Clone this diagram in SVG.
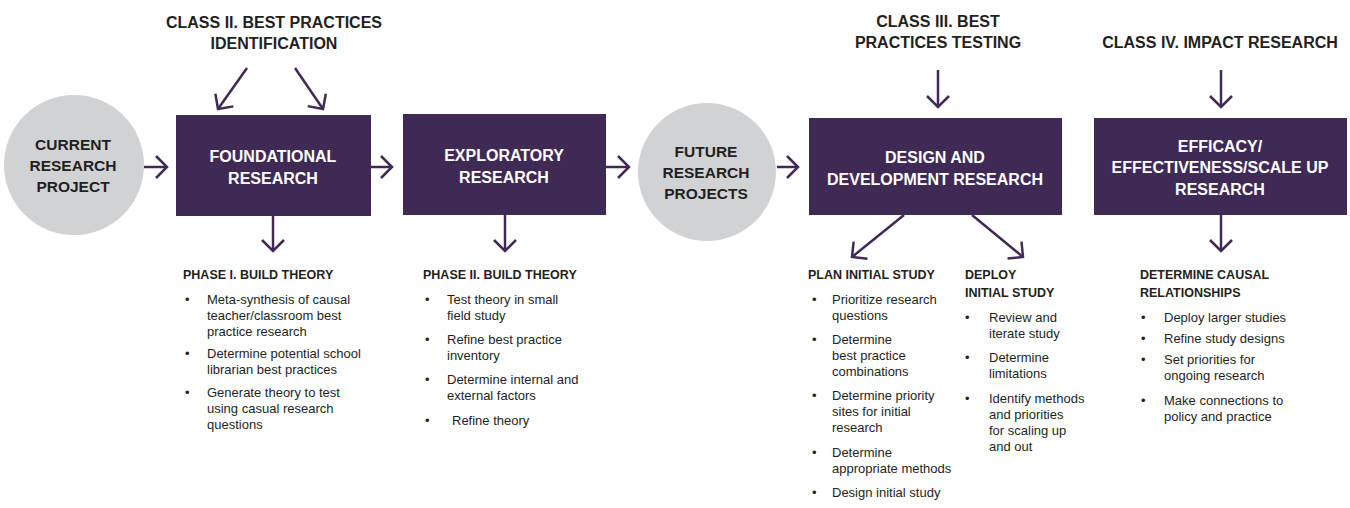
<svg xmlns="http://www.w3.org/2000/svg" width="1350" height="508" viewBox="0 0 1350 508">
<style>
.box{fill:#3f2a56}
.circ{fill:#d1d2d4}
.t{font-family:"Liberation Sans",Arial,sans-serif;font-weight:700;text-anchor:middle}
.cls{font-size:16px;fill:#231f20}
.bx{font-size:16px;fill:#ffffff}
.cr{font-size:15.5px;fill:#231f20}
.h{font-family:"Liberation Sans",Arial,sans-serif;font-weight:700;font-size:12.5px;fill:#231f20}
.b{font-family:"Liberation Sans",Arial,sans-serif;font-size:13px;fill:#231f20}
.ln{stroke:#3f2a56;stroke-width:2.5;fill:none;marker-end:url(#chev)}
</style>
<defs>
<marker id="chev" markerUnits="userSpaceOnUse" viewBox="-14 -14 16 28" refX="0" refY="0" markerWidth="16" markerHeight="28" orient="auto">
<path d="M-11,-11 L0,0 L-11,11" fill="none" stroke="#3f2a56" stroke-width="2.5"/>
</marker>
</defs>
<rect width="1350" height="508" fill="#ffffff"/>

<g id="class2">
<text class="t cls" x="274" y="28">CLASS II. BEST PRACTICES</text>
<text class="t cls" x="274" y="49">IDENTIFICATION</text>
</g>
<g id="class3">
<text class="t cls" x="938" y="27">CLASS III. BEST</text>
<text class="t cls" x="938" y="48">PRACTICES TESTING</text>
</g>
<g id="class4">
<text class="t cls" x="1220" y="48">CLASS IV. IMPACT RESEARCH</text>
</g>

<g id="current">
<circle class="circ" cx="74" cy="165" r="70"/>
<text class="t cr" x="73" y="150">CURRENT</text>
<text class="t cr" x="73" y="171">RESEARCH</text>
<text class="t cr" x="73" y="192">PROJECT</text>
</g>
<g id="foundational">
<rect class="box" x="176" y="115" width="195" height="101"/>
<text class="t bx" x="273" y="162">FOUNDATIONAL</text>
<text class="t bx" x="273" y="184">RESEARCH</text>
</g>
<g id="exploratory">
<rect class="box" x="403" y="114" width="203" height="101"/>
<text class="t bx" x="504" y="161">EXPLORATORY</text>
<text class="t bx" x="504" y="183">RESEARCH</text>
</g>
<g id="future">
<circle class="circ" cx="707" cy="172" r="69"/>
<text class="t cr" x="706" y="157">FUTURE</text>
<text class="t cr" x="706" y="178">RESEARCH</text>
<text class="t cr" x="706" y="199">PROJECTS</text>
</g>
<g id="design">
<rect class="box" x="809" y="118" width="253" height="97"/>
<text class="t bx" x="935" y="163">DESIGN AND</text>
<text class="t bx" x="935" y="185">DEVELOPMENT RESEARCH</text>
</g>
<g id="efficacy">
<rect class="box" x="1094" y="118" width="253" height="97"/>
<text class="t bx" x="1220" y="152">EFFICACY/</text>
<text class="t bx" x="1220" y="173">EFFECTIVENESS/SCALE UP</text>
<text class="t bx" x="1220" y="195">RESEARCH</text>
</g>

<g id="connectors">
<line class="ln" x1="247" y1="68" x2="218" y2="109"/>
<line class="ln" x1="295" y1="68" x2="323" y2="109"/>
<line class="ln" x1="144" y1="167" x2="167" y2="167"/>
<line class="ln" x1="371" y1="167" x2="392" y2="167"/>
<line class="ln" x1="606" y1="167" x2="629" y2="167"/>
<line class="ln" x1="777" y1="167" x2="798" y2="167"/>
<line class="ln" x1="938" y1="70" x2="938" y2="107"/>
<line class="ln" x1="1221" y1="70" x2="1221" y2="107"/>
<line class="ln" x1="273" y1="216" x2="273" y2="251"/>
<line class="ln" x1="505" y1="215" x2="505" y2="251"/>
<line class="ln" x1="904" y1="215" x2="852" y2="257"/>
<line class="ln" x1="972" y1="215" x2="1023" y2="257"/>
<line class="ln" x1="1221" y1="215" x2="1221" y2="251"/>
</g>

<g id="phase1">
<text class="h" x="183" y="279">PHASE I. BUILD THEORY</text>
<text class="b" x="185" y="304">•</text><text class="b" x="207" y="304">Meta-synthesis of causal</text>
<text class="b" x="207" y="320">teacher/classroom best</text>
<text class="b" x="207" y="336">practice research</text>
<text class="b" x="185" y="358">•</text><text class="b" x="207" y="358">Determine potential school</text>
<text class="b" x="207" y="374">librarian best practices</text>
<text class="b" x="185" y="397">•</text><text class="b" x="207" y="397">Generate theory to test</text>
<text class="b" x="207" y="413">using casual research</text>
<text class="b" x="207" y="429">questions</text>
</g>

<g id="phase2">
<text class="h" x="423" y="279">PHASE II. BUILD THEORY</text>
<text class="b" x="425" y="304">•</text><text class="b" x="447" y="304">Test theory in small</text>
<text class="b" x="447" y="320">field study</text>
<text class="b" x="425" y="344">•</text><text class="b" x="447" y="344">Refine best practice</text>
<text class="b" x="447" y="360">inventory</text>
<text class="b" x="425" y="384">•</text><text class="b" x="447" y="384">Determine internal and</text>
<text class="b" x="447" y="400">external factors</text>
<text class="b" x="425" y="425">•</text><text class="b" x="452" y="425">Refine theory</text>
</g>

<g id="plan">
<text class="h" x="808" y="279">PLAN INITIAL STUDY</text>
<text class="b" x="812" y="304">•</text><text class="b" x="832" y="304">Prioritize research</text>
<text class="b" x="832" y="320">questions</text>
<text class="b" x="812" y="344">•</text><text class="b" x="832" y="344">Determine</text>
<text class="b" x="832" y="360">best practice</text>
<text class="b" x="832" y="376">combinations</text>
<text class="b" x="812" y="400">•</text><text class="b" x="832" y="400">Determine priority</text>
<text class="b" x="832" y="416">sites for initial</text>
<text class="b" x="832" y="432">research</text>
<text class="b" x="812" y="457">•</text><text class="b" x="832" y="457">Determine</text>
<text class="b" x="832" y="473">appropriate methods</text>
<text class="b" x="812" y="497">•</text><text class="b" x="832" y="497">Design initial study</text>
</g>

<g id="deploy">
<text class="h" x="965" y="279">DEPLOY</text>
<text class="h" x="965" y="297">INITIAL STUDY</text>
<text class="b" x="965" y="322">•</text><text class="b" x="989" y="322">Review and</text>
<text class="b" x="989" y="338">iterate study</text>
<text class="b" x="965" y="362">•</text><text class="b" x="989" y="362">Determine</text>
<text class="b" x="989" y="378">limitations</text>
<text class="b" x="965" y="403">•</text><text class="b" x="989" y="403">Identify methods</text>
<text class="b" x="989" y="419">and priorities</text>
<text class="b" x="989" y="435">for scaling up</text>
<text class="b" x="989" y="451">and out</text>
</g>

<g id="causal">
<text class="h" x="1140" y="279">DETERMINE CAUSAL</text>
<text class="h" x="1140" y="297">RELATIONSHIPS</text>
<text class="b" x="1141" y="322">•</text><text class="b" x="1164" y="322">Deploy larger studies</text>
<text class="b" x="1141" y="343">•</text><text class="b" x="1164" y="343">Refine study designs</text>
<text class="b" x="1141" y="364">•</text><text class="b" x="1164" y="364">Set priorities for</text>
<text class="b" x="1164" y="380">ongoing research</text>
<text class="b" x="1141" y="405">•</text><text class="b" x="1164" y="405">Make connections to</text>
<text class="b" x="1164" y="421">policy and practice</text>
</g>
</svg>
